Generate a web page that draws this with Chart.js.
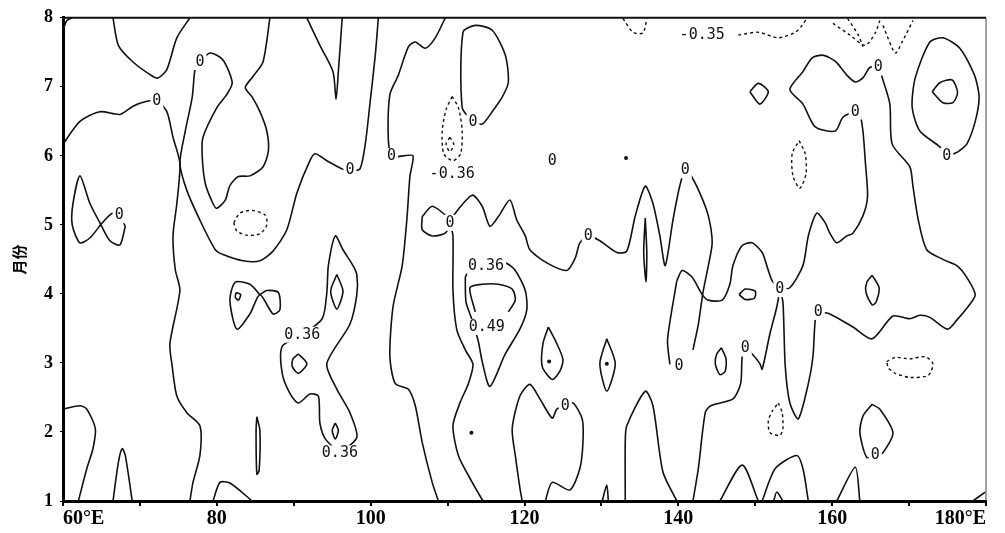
<!DOCTYPE html>
<html>
<head>
<meta charset="utf-8">
<script src="https://cdn.jsdelivr.net/npm/chart.js@4"></script>
<style>
  html, body { margin: 0; padding: 0; background: #fff; }
  #wrap { width: 1005px; height: 533px; }
</style>
</head>
<body>
<div id="wrap"><canvas id="c"></canvas></div>
<script>
// axis ranges and tick labels
const lonRange = [60, 180];
const monthRange = [1, 8];
const lonLabels = { 60: '60°E', 80: '80', 100: '100', 120: '120', 140: '140', 160: '160', 180: '180°E' };

// contour lines, points are [longitude, month]
const c01 = [[60.0,6.17],[62.2,6.50],[64.8,6.64],[67.4,6.60],[69.1,6.72],[70.9,6.79],[72.2,6.80],[73.5,6.64],[74.3,6.27],[75.2,5.89],[74.8,5.31],[74.3,4.84],[74.6,4.35],[75.2,4.05],[73.9,3.28],[74.2,2.95],[74.8,2.52],[76.1,2.28],[77.8,2.09],[77.8,1.66],[76.9,1.27],[76.5,1.00]];
const c02 = [[101.0,8.0],[100.6,7.46],[99.9,6.75],[99.3,6.17],[98.6,5.81],[97.3,5.79],[96.3,5.81],[94.3,5.93],[92.8,6.03],[92.1,5.93],[90.4,5.46],[89.1,4.93],[87.3,4.62],[85.6,4.48],[83.4,4.48],[80.8,4.57],[79.8,4.64],[77.8,5.07],[76.1,5.50],[75.2,5.89],[75.9,6.36],[76.8,6.85],[77.2,7.28],[77.8,7.36],[79.1,7.49],[80.8,7.39],[82.0,7.06],[81.3,6.89],[80.0,6.70],[78.2,6.27],[78.1,5.99],[78.5,5.60],[79.5,5.31],[80.0,5.24],[81.1,5.36],[81.7,5.57],[82.8,5.70],[84.3,5.71],[86.0,5.84],[86.7,6.07],[86.5,6.36],[85.6,6.64],[84.6,6.85],[83.7,6.99],[84.7,7.15],[86.0,7.36],[86.9,8.0]];
const c03 = [[66.5,8.0],[67.2,7.60],[69.1,7.36],[71.7,7.15],[72.4,7.13],[73.5,7.25],[74.8,7.71],[76.5,8.0]];
const c04 = [[91.7,8.0],[93.4,7.60],[95.1,7.22],[95.5,6.82],[95.8,7.22],[96.3,8.0]];
const c05 = [[68.1,4.98],[67.4,4.71],[66.1,4.77],[64.8,5.03],[63.5,5.31],[62.2,5.71],[61.3,5.31],[61.2,5.00],[62.2,4.74],[63.5,4.81],[65.1,5.03],[66.4,5.17],[67.3,5.14],[68.1,4.98]];
const c06 = [[60.0,2.33],[62.2,2.38],[63.1,2.33],[64.2,2.05],[63.9,1.76],[63.1,1.47],[62.0,1.0]];
const c07 = [[66.5,1.0],[67.2,1.56],[67.7,1.76],[68.1,1.66],[69.0,1.0]];
const c08 = [[79.5,1.0],[80.4,1.27],[81.7,1.26],[84.6,1.0]];
const c09 = [[96.0,1.69],[98.2,1.92],[97.3,2.28],[95.6,2.62],[94.3,2.99],[97.3,3.56],[98.2,3.99],[98.2,4.28],[97.7,4.41],[96.4,4.64],[95.4,4.84],[94.5,4.41],[94.3,4.02],[93.7,3.64],[91.1,3.41],[88.5,3.24],[88.5,2.85],[89.5,2.56],[90.6,2.42],[92.1,2.55],[93.2,2.52],[93.4,2.13],[94.1,1.90],[96.0,1.69]];
const c10 = [[95.6,4.28],[96.4,4.04],[95.6,3.78],[94.8,4.04],[95.6,4.28]];
const c11 = [[90.6,3.13],[91.7,2.99],[90.6,2.85],[89.8,2.95],[89.9,3.06],[90.6,3.13]];
const c12 = [[95.4,2.13],[95.8,2.02],[95.4,1.90],[95.0,2.02],[95.4,2.13]];
const c13 = [[85.6,3.99],[84.3,4.14],[82.4,4.17],[81.7,3.91],[82.6,3.49],[84.3,3.71],[85.6,3.99],[87.3,3.71],[88.2,3.77],[88.0,4.02],[86.5,4.05],[85.6,3.99]];
const c14 = [[82.5,4.02],[83.1,3.99],[82.8,3.91],[82.4,3.95],[82.5,4.02]];
const c15 = [[85.2,2.22],[85.6,2.02],[85.5,1.44],[85.2,1.39],[85.1,2.02],[85.2,2.22]];
const c16 = [[109.7,8.0],[108.4,7.71],[107.1,7.56],[105.8,7.65],[104.9,7.58],[103.6,7.17],[102.5,6.89],[102.3,6.22],[102.8,5.99],[104.2,6.00],[105.5,6.00],[105.1,5.70],[104.7,5.07],[104.1,4.41],[102.9,3.81],[102.5,3.09],[103.2,2.70],[104.9,2.62],[105.8,2.38],[106.7,1.85],[108.0,1.27],[108.8,1.0]];
const c17 = [[113.3,6.49],[111.9,6.70],[112.0,7.79],[113.6,7.89],[115.8,7.82],[117.5,7.46],[117.9,7.07],[117.1,6.85],[115.8,6.64],[114.5,6.46],[113.3,6.49]];
const c18 = [[106.7,5.12],[108.0,5.27],[109.9,5.12],[110.3,5.03],[109.7,4.88],[108.0,4.84],[106.7,4.93],[106.7,5.12]];
const c19 = [[110.3,5.03],[111.0,5.17],[113.2,5.43],[114.5,5.27],[115.5,4.98],[116.6,5.12],[118.1,5.36],[119.0,5.07],[120.1,4.84],[120.7,4.64],[122.9,4.45],[125.5,4.34],[126.6,4.52],[127.2,4.74],[128.3,4.84],[129.8,4.77],[132.0,4.60],[133.3,4.62],[134.4,5.13],[135.7,5.56],[136.7,5.31],[137.6,4.84],[138.3,4.41],[139.3,5.07],[140.2,5.57],[140.9,5.79],[141.5,5.74],[142.8,5.46],[143.9,5.13],[144.4,4.74],[143.9,4.41],[143.2,4.02],[142.6,3.56],[141.9,3.19]];
const c20 = [[110.3,5.03],[110.7,4.84],[110.7,4.05],[111.2,3.48],[112.3,3.19],[113.3,2.98],[112.7,2.70],[111.6,2.42],[110.7,2.09],[111.4,1.66],[113.2,1.27],[114.6,1.0]];
const c21 = [[112.3,4.24],[112.4,3.88],[113.2,3.62],[114.0,3.31],[114.5,3.02],[115.5,2.66],[117.5,3.13],[119.4,3.49],[120.3,3.77],[120.1,4.05],[118.8,4.34],[117.5,4.45],[115.0,4.42],[112.9,4.38],[112.3,4.24]];
const c22 = [[117.9,3.74],[118.8,3.91],[118.4,4.07],[116.6,4.14],[114.5,4.14],[112.9,4.09],[113.6,3.74]];
const c23 = [[119.7,1.0],[119.4,1.19],[118.8,1.66],[118.4,2.05],[119.4,2.52],[120.7,2.69],[122.0,2.48],[123.6,2.20],[124.2,2.33],[125.3,2.38],[126.3,2.42],[127.5,2.19],[127.6,1.85],[127.2,1.47],[125.9,1.16],[123.6,1.27],[122.7,1.0]];
const c24 = [[123.1,3.52],[124.2,3.28],[125.0,3.05],[124.6,2.88],[123.6,2.76],[122.3,2.95],[122.4,3.28],[123.1,3.52]];
const c25 = [[130.7,3.35],[131.8,2.99],[130.7,2.59],[129.8,2.99],[130.7,3.35]];
const c26 = [[130.1,1.0],[130.7,1.23],[130.9,1.0]];
const c27 = [[133.1,1.0],[133.1,1.87],[133.3,2.09],[135.7,2.59],[136.7,2.38],[138.0,1.42],[139.8,1.0]];
const c28 = [[135.7,5.10],[135.9,4.60],[135.8,4.17],[135.5,4.60],[135.7,5.10]];
const c29 = [[139.8,4.19],[138.6,3.34],[138.9,2.98]];
const c30 = [[139.8,4.19],[140.5,4.34],[141.8,4.24],[143.1,3.99],[143.9,3.91],[145.7,3.91],[146.7,4.14],[147.1,4.41],[148.3,4.70],[149.6,4.74],[150.9,4.60],[151.5,4.41],[152.2,4.19],[153.2,4.07]];
const c31 = [[141.9,1.0],[142.6,1.47],[143.5,2.28],[144.2,2.38],[147.1,2.48],[148.1,2.70],[148.3,3.09],[148.7,3.21],[149.6,3.13],[150.6,2.99],[150.9,2.91],[151.9,3.42],[152.8,3.81],[153.2,4.07]];
const c32 = [[153.2,4.07],[153.6,3.88],[153.9,2.95],[154.5,2.42],[155.6,2.19],[156.9,2.70],[157.5,3.09],[157.8,3.62],[158.2,3.74]];
const c33 = [[153.2,4.07],[154.5,4.09],[156.2,4.41],[156.9,4.84],[158.0,5.17],[159.1,5.03],[159.7,4.88],[160.6,4.74],[161.9,4.84],[162.7,4.88],[164.0,5.13],[164.6,5.41],[164.3,5.93],[164.0,6.36],[163.6,6.60],[163.0,6.64],[161.4,6.56],[160.4,6.36],[157.8,6.42],[156.2,6.75],[154.5,6.96],[156.2,7.22],[157.4,7.42],[158.7,7.46],[159.7,7.42],[160.6,7.35],[161.9,7.17],[163.0,7.07],[164.0,7.13],[164.9,7.28],[166.0,7.28],[166.6,7.10],[167.5,6.75],[167.8,6.17],[170.1,5.84],[170.5,5.56],[171.2,5.07],[172.3,4.64],[174.4,4.50],[176.2,4.41],[177.5,4.24],[178.6,3.99],[177.9,3.85],[176.2,3.62],[175.0,3.49],[172.7,3.66],[171.4,3.69],[170.1,3.64],[167.9,3.68],[165.2,3.35],[162.7,3.52],[159.7,3.71],[158.2,3.74]];
const c34 = [[149.3,6.93],[150.4,7.05],[151.7,6.93],[150.6,6.75],[149.3,6.93]];
const c35 = [[176.4,6.06],[177.5,6.17],[178.6,6.50],[179.1,6.85],[178.5,7.17],[176.6,7.56],[174.4,7.71],[172.7,7.65],[170.8,7.13],[170.4,6.70],[171.4,6.36],[174.0,6.13],[174.9,6.00],[176.4,6.06]];
const c36 = [[173.0,6.93],[174.0,7.06],[175.6,7.10],[176.3,6.92],[175.7,6.77],[174.4,6.77],[173.0,6.93]];
const c37 = [[165.2,4.27],[166.1,4.09],[165.7,3.88],[165.2,3.84],[164.4,4.02],[164.5,4.17],[165.2,4.27]];
const c38 = [[165.2,2.40],[166.2,2.33],[167.9,1.99],[166.6,1.70],[165.6,1.66],[164.5,1.63],[163.6,1.99],[164.0,2.23],[165.2,2.40]];
const c39 = [[160.6,1.0],[163.0,1.49],[163.6,1.0]];
const c40 = [[178.3,1.0],[179.9,1.13]];
const c41 = [[145.4,1.0],[148.3,1.52],[150.4,1.0]];
const c42 = [[150.9,1.0],[152.6,1.47],[155.4,1.66],[156.2,1.47],[156.9,1.0]];
const c43 = [[152.4,1.0],[152.8,1.13],[153.6,1.0]];
const c44 = [[147.9,3.99],[148.7,4.07],[150.0,4.04],[149.9,3.94],[148.7,3.92],[147.9,3.99]];
const c45 = [[145.6,3.22],[146.2,3.06],[146.1,2.88],[145.4,2.83],[144.8,2.99],[145.0,3.13],[145.6,3.22]];
const c46 = [[60.0,7.82],[60.5,7.96],[61.2,8.0]];

// negative contours (dashed)
const d01 = [[82.2,5.03],[83.0,5.17],[84.6,5.21],[86.3,5.14],[86.5,5.00],[85.6,4.87],[83.9,4.85],[82.6,4.91],[82.2,5.03]];
const d02 = [[110.6,6.86],[111.4,6.70],[111.9,6.36],[111.7,6.03],[110.7,5.93],[109.5,6.03],[109.3,6.36],[109.8,6.67],[110.6,6.86]];
const d03 = [[110.3,6.27],[110.8,6.17],[110.3,6.06],[109.8,6.17],[110.3,6.27]];
const d04 = [[132.8,7.99],[134.1,7.79],[135.4,7.78],[135.9,7.99]];
const d05 = [[147.8,7.75],[150.4,7.79],[153.0,7.71],[155.2,7.79],[156.1,7.89],[156.7,7.99]];
const d06 = [[155.7,6.22],[156.5,6.03],[156.6,5.74],[155.8,5.53],[154.9,5.71],[154.8,6.03],[155.7,6.22]];
const d07 = [[160.1,7.92],[162.3,7.75],[164.3,7.60],[165.6,7.78],[166.2,7.96]];
const d08 = [[162.0,7.99],[163.4,7.75],[164.0,7.58]];
const d09 = [[166.6,7.89],[168.2,7.49],[169.1,7.65],[170.5,7.96]];
const d10 = [[167.1,3.02],[168.2,3.08],[170.1,3.06],[172.1,3.09],[173.1,2.99],[172.5,2.82],[170.1,2.79],[168.2,2.85],[167.3,2.93],[167.1,3.02]];
const d11 = [[153.0,2.42],[153.5,2.28],[153.6,2.05],[153.2,1.95],[151.9,1.99],[151.7,2.16],[152.2,2.30],[153.0,2.42]];

// isolated dots
const dots = [[133.2,5.97],[123.2,3.02],[130.7,2.99],[113.1,1.99]];

// contour labels [lon, month, text]
const contourLabels = [
    [72.2,6.80,'0'],[77.8,7.36,'0'],[67.3,5.14,'0'],[97.3,5.79,'0'],[102.7,5.99,'0'],
    [113.3,6.49,'0'],[110.6,5.74,'-0.36'],[110.3,5.03,'0'],[91.1,3.41,'0.36'],[96.0,1.69,'0.36'],
    [115.0,4.41,'0.36'],[115.1,3.52,'0.49'],[123.6,5.93,'0'],[128.3,4.84,'0'],[125.3,2.38,'0'],
    [140.9,5.79,'0'],[140.1,2.95,'0'],[148.7,3.21,'0'],[153.2,4.07,'0'],[158.2,3.74,'0'],
    [163.0,6.64,'0'],[166.0,7.28,'0'],[174.9,6.00,'0'],[165.6,1.66,'0'],[143.1,7.75,'-0.35']
];

const solidLines = [c01,c02,c03,c04,c05,c06,c07,c08,c09,c10,c11,c12,c13,c14,c15,c16,c17,c18,c19,c20,
    c21,c22,c23,c24,c25,c26,c27,c28,c29,c30,c31,c32,c33,c34,c35,c36,c37,c38,c39,c40,c41,c42,c43,c44,c45,c46];
const dashedLines = [d01,d02,d03,d04,d05,d06,d07,d08,d09,d10,d11];

const toXY = (pts) => pts.map(p => ({ x: p[0], y: p[1] }));

const lineSet = (pts, dashed) => ({
    data: toXY(pts),
    showLine: true,
    borderColor: '#111',
    borderWidth: dashed ? 1.4 : 1.6,
    borderDash: dashed ? [3, 3] : [],
    pointRadius: 0,
    tension: 0.25,
    fill: false
});

const datasets = [
    ...solidLines.map(p => lineSet(p, false)),
    ...dashedLines.map(p => lineSet(p, true)),
    { data: toXY(dots), showLine: false, pointRadius: 2, backgroundColor: '#111', borderWidth: 0 }
];

// frame on top/right and contour value labels
const framePlugin = {
    id: 'frame',
    beforeDatasetsDraw(chart) {
        const { ctx, chartArea: a } = chart;
        ctx.save();
        ctx.strokeStyle = '#111';
        ctx.lineWidth = 2;
        ctx.beginPath();
        ctx.moveTo(a.left, a.top);
        ctx.lineTo(a.right, a.top);
        ctx.stroke();
        ctx.lineWidth = 1;
        ctx.strokeStyle = '#444';
        ctx.beginPath();
        ctx.moveTo(a.right, a.top);
        ctx.lineTo(a.right, a.bottom);
        ctx.stroke();
        ctx.restore();
    }
};

const labelPlugin = {
    id: 'contourLabels',
    afterDatasetsDraw(chart) {
        const { ctx, scales } = chart;
        ctx.save();
        ctx.font = '15px "DejaVu Sans Mono", monospace';
        ctx.textAlign = 'center';
        ctx.textBaseline = 'middle';
        contourLabels.forEach(([lon, m, t]) => {
            const px = scales.x.getPixelForValue(lon);
            const py = scales.y.getPixelForValue(m);
            const w = ctx.measureText(t).width;
            ctx.fillStyle = '#fff';
            ctx.fillRect(px - w / 2 - 2, py - 8, w + 4, 16);
            ctx.fillStyle = '#111';
            ctx.fillText(t, px, py);
        });
        ctx.restore();
    }
};

new Chart(document.getElementById('c'), {
    type: 'scatter',
    data: { datasets },
    options: {
        responsive: true,
        maintainAspectRatio: false,
        animation: false,
        layout: { padding: { top: 12, right: 19, left: 0, bottom: 0 } },
        plugins: { legend: { display: false }, tooltip: { enabled: false } },
        scales: {
            x: {
                type: 'linear',
                min: lonRange[0],
                max: lonRange[1],
                afterFit: (s) => { s.height = 32; },
                border: { display: true, color: '#000', width: 3 },
                grid: { display: true, drawOnChartArea: false, drawTicks: true, tickLength: 5, color: '#000', lineWidth: 2 },
                ticks: {
                    stepSize: 10,
                    autoSkip: false,
                    maxRotation: 0,
                    align: 'inner',
                    padding: 1,
                    color: '#000',
                    font: { family: '"Liberation Serif", serif', size: 20, weight: 'bold' },
                    callback: (v) => lonLabels[v] || ''
                }
            },
            y: {
                type: 'linear',
                min: monthRange[0],
                max: monthRange[1],
                afterFit: (s) => { s.width = 63; },
                border: { display: true, color: '#000', width: 3 },
                grid: { display: true, drawOnChartArea: false, drawTicks: true, tickLength: 3, color: '#000' },
                title: {
                    display: true,
                    text: '月份',
                    color: '#000',
                    font: { family: '"Noto Sans CJK SC", sans-serif', size: 15, weight: 'bold' },
                    padding: { top: 10, bottom: 0 }
                },
                ticks: {
                    stepSize: 1,
                    padding: 7,
                    color: '#000',
                    font: { family: '"Liberation Serif", serif', size: 18, weight: 'bold' }
                }
            }
        }
    },
    plugins: [framePlugin, labelPlugin]
});
</script>
</body>
</html>
